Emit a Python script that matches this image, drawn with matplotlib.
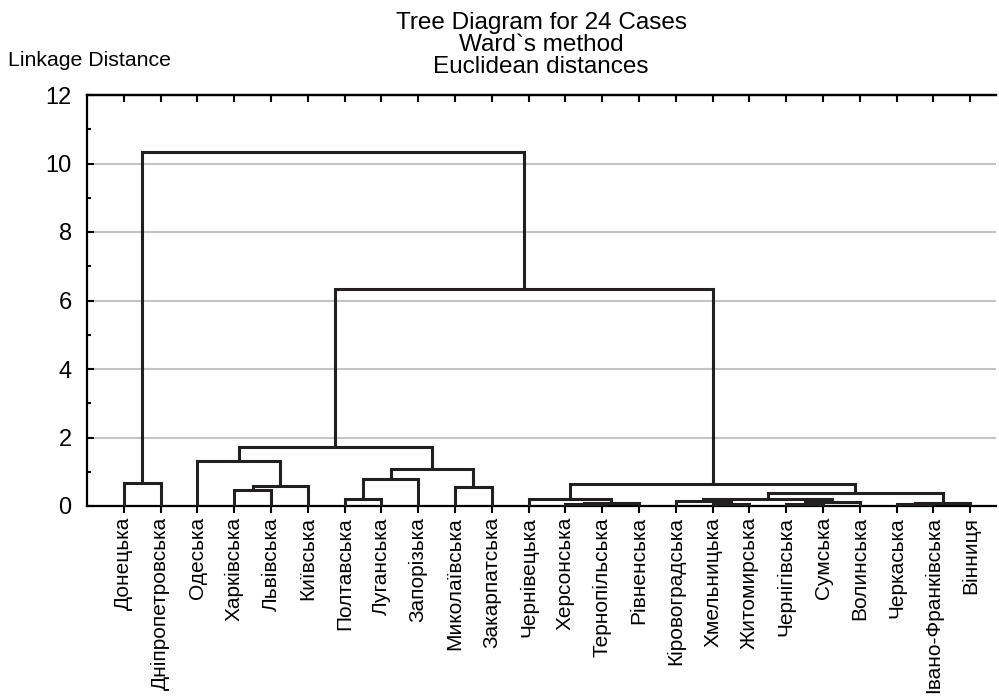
import matplotlib
matplotlib.use("Agg")
import matplotlib.pyplot as plt
from matplotlib.ticker import MultipleLocator

plt.rcParams['font.family'] = ['Liberation Sans', 'DejaVu Sans']

# leaves in display order
leaves = ['Донецька', 'Дніпропетровська', 'Одеська', 'Харківська', 'Львівська',
          'Київська', 'Полтавська', 'Луганська', 'Запорізька', 'Миколаївська',
          'Закарпатська', 'Чернівецька', 'Херсонська', 'Тернопільська', 'Рівненська',
          'Кіровоградська', 'Хмельницька', 'Житомирська', 'Чернігівська', 'Сумська',
          'Волинська', 'Черкаська', 'Івано-Франківська', 'Вінниця']

# merges: new cluster id = 24 + row index (scipy-style)
merge_left = [16, 12, 21, 18, 25, 26, 27, 15, 31, 6, 11, 32,
              3, 9, 36, 34, 0, 33, 41, 2, 43, 44, 40]
merge_right = [17, 13, 22, 19, 14, 23, 20, 24, 30, 7, 28, 29,
               4, 10, 5, 35, 1, 8, 37, 38, 42, 39, 45]
merge_height = [0.05, 0.06, 0.06, 0.07, 0.10, 0.10, 0.12, 0.14, 0.19, 0.20, 0.21, 0.39,
                0.48, 0.55, 0.57, 0.64, 0.68, 0.80, 1.08, 1.32, 1.73, 6.34, 10.33]

n = len(leaves)
xpos = {i: i + 1 for i in range(n)}
ypos = {i: 0.0 for i in range(n)}

fig = plt.figure(figsize=(9.99, 6.97), dpi=100)
ax = fig.add_axes([87 / 999, 1 - 506 / 697, (996 - 87) / 999, (506 - 95) / 697])

line_col = '#231f20'
for k, (a, b, h) in enumerate(zip(merge_left, merge_right, merge_height)):
    xa, ya = xpos[a], ypos[a]
    xb, yb = xpos[b], ypos[b]
    ax.plot([xa, xa, xb, xb], [ya, h, h, yb], color=line_col, lw=2.2,
            solid_joinstyle='miter', solid_capstyle='butt', zorder=3)
    xpos[n + k] = (xa + xb) / 2
    ypos[n + k] = h

ax.set_xlim(0, 24.7)
ax.set_ylim(0, 12)

ax.spines['right'].set_visible(False)
for s in ['left', 'top', 'bottom']:
    ax.spines[s].set_linewidth(1.6)
    ax.spines[s].set_color('black')

ax.yaxis.set_major_locator(MultipleLocator(2))
ax.yaxis.set_minor_locator(MultipleLocator(1))
ax.yaxis.grid(True, which='major', color='#c4c4c4', lw=1.5)
ax.set_axisbelow(True)
ax.tick_params(axis='y', which='major', direction='in', length=5, width=1.5,
               labelsize=17, pad=11)
ax.tick_params(axis='y', which='minor', direction='in', length=3, width=1.5)

ax.set_xticks(range(1, n + 1))
ax.set_xticklabels(leaves, rotation=90, fontsize=15, va='top', ha='center')
ax.tick_params(axis='x', direction='out', length=5, width=1.5, pad=3)

top = ax.secondary_xaxis('top')
top.set_xticks(range(1, n + 1))
top.set_xticklabels([])
top.tick_params(direction='in', length=5, width=1.5)
top.spines['top'].set_linewidth(1.6)

fig.text(541 / 999, 1 - 12 / 697, "Tree Diagram for 24 Cases\nWard`s method\nEuclidean distances",
         ha='center', va='top', fontsize=17.5, linespacing=1.0)
fig.text(8 / 999, 1 - 60 / 697, "Linkage Distance", ha='left', va='center', fontsize=15.3)

fig.savefig("out.png", dpi=100)
